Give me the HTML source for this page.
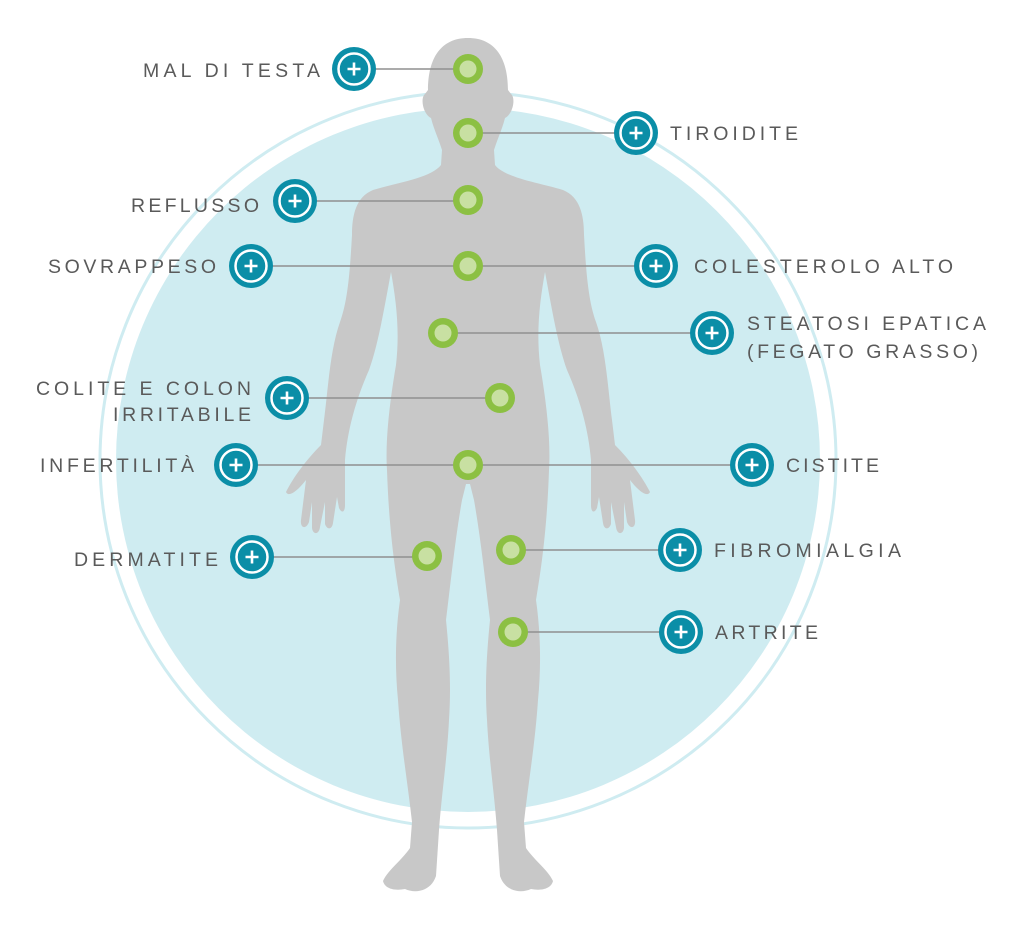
<!DOCTYPE html>
<html><head><meta charset="utf-8"><style>
html,body{margin:0;padding:0;background:#fff;}
svg{display:block}
text{font-family:"Liberation Sans",sans-serif;font-size:19.5px;fill:#5a5a5a;}
</style></head><body>
<svg width="1024" height="933" viewBox="0 0 1024 933" xmlns="http://www.w3.org/2000/svg">
<defs>
<g id="half">
<path d="M468,38 C495,38 508,58 508,90 L511,94 C516,98 513,114 505,118 C502,130 497,140 494,150 L495,165 C505,178 540,183 563,190 C580,197 584,215 584,235 C586,270 588,300 596,322 C606,350 608,390 612,420 L615,445 C630,460 643,478 650,492 C648,497 640,493 630,480 L635,520 C636,528 630,530 627,522 L624,502 L624,528 C623,535 617,535 616,527 L611,502 L611,524 C609,530 604,530 603,523 L599,497 L597,508 C594,514 591,512 591,505 L591,460 C588,425 578,395 567,370 C558,345 552,310 545,272 C540,300 536,330 540,365 C546,400 551,440 549,470 C547,530 541,570 536,600 C541,635 541,670 538,700 C535,745 528,785 524,822 L526,848 C534,860 548,870 553,881 C551,889 541,891 531,889 C520,894 505,891 500,876 L497,830 C494,790 489,760 487,720 C485,690 486,660 490,620 C485,580 481,540 474,500 L470,484 L468,484 Z" fill="#c8c8c8"/>
</g>
<g id="dot"><circle r="15" fill="#8cc043"/><circle r="8.5" fill="#c8e0a2"/></g>
<g id="ico"><circle r="22" fill="#0b8ea7"/><circle r="15.5" fill="none" stroke="#fff" stroke-width="2.5"/><path d="M-6.5,0H6.5M0,-6.5V6.5" stroke="#fff" stroke-width="2.6"/></g>
</defs>
<circle cx="468" cy="460" r="368" fill="none" stroke="#cfecf1" stroke-width="3"/>
<circle cx="468" cy="460" r="352" fill="#cfecf1"/>
<use href="#half"/>
<use href="#half" transform="translate(936,0) scale(-1,1)"/>
<g stroke="#8f8f8f" stroke-width="1.5">
<line x1="354" y1="69" x2="468" y2="69"/>
<line x1="468" y1="133" x2="636" y2="133"/>
<line x1="295" y1="201" x2="468" y2="201"/>
<line x1="251" y1="266" x2="656" y2="266"/>
<line x1="443" y1="333" x2="712" y2="333"/>
<line x1="287" y1="398" x2="500" y2="398"/>
<line x1="236" y1="465" x2="752" y2="465"/>
<line x1="252" y1="557" x2="427" y2="557"/>
<line x1="511" y1="550" x2="680" y2="550"/>
<line x1="513" y1="632" x2="681" y2="632"/>
</g>
<use href="#dot" x="468" y="69"/>
<use href="#dot" x="468" y="133"/>
<use href="#dot" x="468" y="200"/>
<use href="#dot" x="468" y="266"/>
<use href="#dot" x="443" y="333"/>
<use href="#dot" x="500" y="398"/>
<use href="#dot" x="468" y="465"/>
<use href="#dot" x="427" y="556"/>
<use href="#dot" x="511" y="550"/>
<use href="#dot" x="513" y="632"/>
<use href="#ico" x="354" y="69"/>
<use href="#ico" x="636" y="133"/>
<use href="#ico" x="295" y="201"/>
<use href="#ico" x="251" y="266"/>
<use href="#ico" x="656" y="266"/>
<use href="#ico" x="712" y="333"/>
<use href="#ico" x="287" y="398"/>
<use href="#ico" x="236" y="465"/>
<use href="#ico" x="752" y="465"/>
<use href="#ico" x="252" y="557"/>
<use href="#ico" x="680" y="550"/>
<use href="#ico" x="681" y="632"/>
<text x="143" y="77" textLength="177" lengthAdjust="spacing">MAL DI TESTA</text>
<text x="670" y="140" textLength="128" lengthAdjust="spacing">TIROIDITE</text>
<text x="131" y="212" textLength="128" lengthAdjust="spacing">REFLUSSO</text>
<text x="48" y="273" textLength="168" lengthAdjust="spacing">SOVRAPPESO</text>
<text x="694" y="273" textLength="259" lengthAdjust="spacing">COLESTEROLO ALTO</text>
<text x="747" y="330" textLength="239" lengthAdjust="spacing">STEATOSI EPATICA</text>
<text x="747" y="358" textLength="231" lengthAdjust="spacing">(FEGATO GRASSO)</text>
<text x="36" y="395" textLength="215" lengthAdjust="spacing">COLITE E COLON</text>
<text x="113" y="421" textLength="138" lengthAdjust="spacing">IRRITABILE</text>
<text x="40" y="472" textLength="154" lengthAdjust="spacing">INFERTILITÀ</text>
<text x="786" y="472" textLength="93" lengthAdjust="spacing">CISTITE</text>
<text x="74" y="566" textLength="144" lengthAdjust="spacing">DERMATITE</text>
<text x="714" y="557" textLength="187" lengthAdjust="spacing">FIBROMIALGIA</text>
<text x="715" y="639" textLength="103" lengthAdjust="spacing">ARTRITE</text>
</svg>
</body></html>
